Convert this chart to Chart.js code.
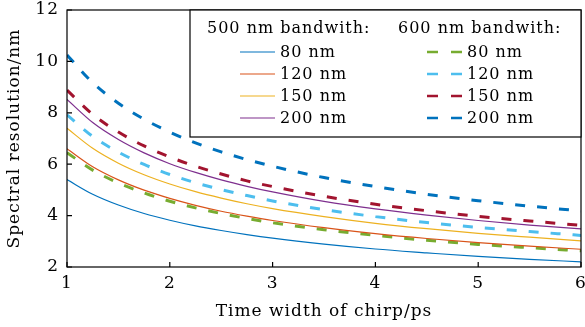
<!DOCTYPE html>
<html>
<head>
<meta charset="utf-8">
<script src="https://cdn.jsdelivr.net/npm/chart.js@4.4.0/dist/chart.umd.min.js"></script>
<style>
html,body{margin:0;padding:0;background:#fff;}
#wrap{width:585px;height:327px;}
</style>
</head>
<body>
<div id="wrap"><canvas id="chart"></canvas></div>
<script>
// chirp time width (ps)
const chirpWidth = [1, 1.25, 1.5, 1.75, 2, 2.25, 2.5, 2.75, 3, 3.5, 4, 4.5, 5, 5.5, 6];

// 500 nm bandwidth
const bw500_80  = [5.40, 4.83, 4.41, 4.08, 3.82, 3.60, 3.42, 3.26, 3.12, 2.89, 2.70, 2.55, 2.41, 2.30, 2.20];
const bw500_120 = [6.60, 5.90, 5.39, 4.99, 4.67, 4.40, 4.17, 3.98, 3.81, 3.53, 3.30, 3.11, 2.95, 2.81, 2.69];
const bw500_150 = [7.40, 6.62, 6.04, 5.59, 5.23, 4.93, 4.68, 4.46, 4.27, 3.96, 3.70, 3.49, 3.31, 3.16, 3.02];
const bw500_200 = [8.52, 7.62, 6.96, 6.44, 6.02, 5.68, 5.39, 5.14, 4.92, 4.55, 4.26, 4.02, 3.81, 3.63, 3.48];

// 600 nm bandwidth
const bw600_80  = [6.45, 5.77, 5.27, 4.88, 4.56, 4.30, 4.08, 3.89, 3.72, 3.45, 3.23, 3.04, 2.88, 2.75, 2.63];
const bw600_120 = [7.92, 7.08, 6.47, 5.99, 5.60, 5.28, 5.01, 4.78, 4.57, 4.23, 3.96, 3.73, 3.54, 3.38, 3.23];
const bw600_150 = [8.88, 7.94, 7.25, 6.71, 6.28, 5.92, 5.62, 5.35, 5.13, 4.75, 4.44, 4.19, 3.97, 3.79, 3.62];
const bw600_200 = [10.25, 9.17, 8.37, 7.75, 7.25, 6.83, 6.48, 6.18, 5.92, 5.48, 5.13, 4.83, 4.58, 4.37, 4.18];

const seriesLabels = ["80 nm", "120 nm", "150 nm", "200 nm"];
const groupTitles = ["500 nm bandwith:", "600 nm bandwith:"];
const xTicks = [1, 2, 3, 4, 5, 6];
const yTicks = [2, 4, 6, 8, 10, 12];

const FONT = "'DejaVu Serif', serif";

const colors500 = ["#0072BD", "#D95319", "#EDB120", "#7E2F8E"];
const colors600 = ["#77AC30", "#4DBEEE", "#A2142F", "#0072BD"];

function pts(ys) {
  return ys.map((y, i) => ({ x: chirpWidth[i], y: y }));
}

const group500 = [bw500_80, bw500_120, bw500_150, bw500_200];
const group600 = [bw600_80, bw600_120, bw600_150, bw600_200];

const datasets = [];
group500.forEach((ys, i) => {
  datasets.push({
    label: seriesLabels[i], group: 0,
    data: pts(ys),
    borderColor: colors500[i],
    borderWidth: 1.2,
    pointRadius: 0,
    cubicInterpolationMode: "monotone"
  });
});
group600.forEach((ys, i) => {
  datasets.push({
    label: seriesLabels[i], group: 1,
    data: pts(ys),
    borderColor: colors600[i],
    borderWidth: 3,
    borderDash: [10, 12],
    pointRadius: 0,
    cubicInterpolationMode: "monotone"
  });
});

// wider text, a bit like the TeX font of the original
const spacing = {
  id: "spacing",
  beforeUpdate(chart) { chart.ctx.letterSpacing = "1px"; },
  beforeDraw(chart) { chart.ctx.letterSpacing = "1px"; }
};

// box, inward ticks and two-column legend
const decor = {
  id: "decor",
  afterDatasetsDraw(chart) {
    const ctx = chart.ctx;
    const a = chart.chartArea;
    const xs = chart.scales.x, ys = chart.scales.y;
    ctx.save();
    ctx.strokeStyle = "#000";
    ctx.lineWidth = 1.2;
    ctx.strokeRect(a.left, a.top, a.right - a.left, a.bottom - a.top);
    ctx.beginPath();
    xTicks.forEach(v => {
      const px = xs.getPixelForValue(v);
      ctx.moveTo(px, a.bottom);
      ctx.lineTo(px, a.bottom - 5);
    });
    yTicks.forEach(v => {
      const py = ys.getPixelForValue(v);
      ctx.moveTo(a.left, py);
      ctx.lineTo(a.left + 5, py);
    });
    ctx.stroke();

    // legend
    const L = 190, T = a.top, R = a.right, B = 137;
    ctx.fillStyle = "#fff";
    ctx.fillRect(L, T, R - L, B - T);
    ctx.strokeRect(L, T, R - L, B - T);
    ctx.fillStyle = "#000";
    ctx.letterSpacing = "1px";
    ctx.font = "16px " + FONT;
    ctx.textBaseline = "middle";
    ctx.textAlign = "left";
    ctx.fillText(groupTitles[0], 207, 29);
    ctx.fillText(groupTitles[1], 398, 29);
    const rowY = [52, 74, 96, 118];
    const colX = [[240, 275, 280], [427, 462, 467]];
    chart.data.datasets.forEach((ds, k) => {
      const c = colX[ds.group];
      const yy = rowY[k % 4];
      ctx.strokeStyle = ds.borderColor;
      ctx.lineWidth = ds.borderDash ? 2.5 : 1.2;
      ctx.setLineDash(ds.borderDash ? [11, 13] : []);
      ctx.beginPath();
      ctx.moveTo(c[0], yy);
      ctx.lineTo(c[1], yy);
      ctx.stroke();
      ctx.setLineDash([]);
      ctx.fillText(ds.label, c[2], yy + 1);
    });
    ctx.restore();
  }
};

new Chart(document.getElementById("chart"), {
  type: "line",
  data: { datasets: datasets },
  plugins: [spacing, decor],
  options: {
    responsive: true,
    maintainAspectRatio: false,
    animation: false,
    layout: { padding: { top: 10, right: 4, left: 0, bottom: 0 } },
    plugins: { legend: { display: false }, tooltip: { enabled: false } },
    scales: {
      x: {
        type: "linear", min: 1, max: 6,
        afterBuildTicks: s => { s.ticks = xTicks.map(v => ({ value: v })); },
        afterFit: s => { s.height = 60; s.paddingLeft = 0; s.paddingRight = 0; },
        grid: { display: false, drawTicks: false, tickLength: 0 },
        border: { display: false },
        ticks: { color: "#000", font: { family: FONT, size: 17 }, padding: 6 },
        title: { display: true, text: "Time width of chirp/ps", color: "#000",
                 font: { family: FONT, size: 17 }, padding: { top: 2, bottom: 5 } }
      },
      y: {
        min: 2, max: 12,
        afterBuildTicks: s => { s.ticks = yTicks.map(v => ({ value: v })); },
        afterFit: s => { s.width = 67; s.paddingTop = 0; s.paddingBottom = 0; },
        grid: { display: false, drawTicks: false, tickLength: 0 },
        border: { display: false },
        ticks: { color: "#000", font: { family: FONT, size: 17 }, padding: 8 },
        title: { display: true, text: "Spectral resolution/nm", color: "#000",
                 font: { family: FONT, size: 17 }, padding: { top: 4, bottom: 4 } }
      }
    }
  }
});
</script>
</body>
</html>
